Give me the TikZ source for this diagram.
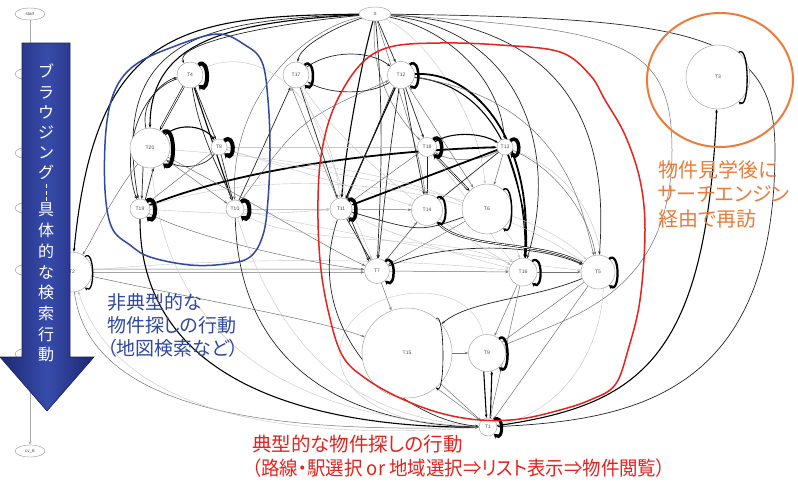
\documentclass[tikz,border=0pt]{standalone}
\usepackage{fontspec}
\setmainfont{Noto Sans CJK JP}
\newfontfamily\jpp[RawFeature=+palt]{Noto Sans CJK JP}
\newfontfamily\lab{Liberation Sans}
\usetikzlibrary{arrows.meta,shapes.geometric}
\pgfdeclarelayer{bg}
\pgfdeclarelayer{edges}
\pgfsetlayers{bg,edges,main}
\definecolor{blueann}{RGB}{48,72,160}
\definecolor{redann}{RGB}{226,35,30}
\definecolor{orangeann}{RGB}{232,125,60}
\definecolor{arrowdark}{RGB}{30,40,115}
\definecolor{arrowmid}{RGB}{55,75,170}
\newcommand{\gloop}[3]{\draw[sl=#2] (#1.50) .. controls +(#3,-0.8*#3) and +(#3,0.8*#3) .. (#1.-50);}
\begin{document}
\begin{tikzpicture}[x=1pt,y=-1pt,
  gn/.style={circle,draw=gray!75,line width=0.45pt,fill=white,inner sep=0pt,font=\lab\fontsize{5}{5}\selectfont,text=black!70},
  el/.style={ellipse,draw=gray!75,line width=0.45pt,fill=white,inner sep=0pt,minimum width=30pt,minimum height=12pt,font=\lab\fontsize{4.5}{5}\selectfont,text=black!70},
  ea/.style={->,gray!45,line width=0.4pt},
  eb/.style={->,black!55,line width=0.5pt},
  ec/.style={->,black!85,line width=0.7pt},
  ed/.style={->,black,line width=1.1pt},
  ee/.style={->,black,line width=1.8pt},
  dd/.style={->,black,line width=0.6pt,double=white,double distance=0.9pt},
  sl/.style={-{Stealth[length=2.5pt 0.5,width=2pt 1.2]},black,line width=#1},
  >={Stealth[length=3.5pt,width=2.6pt]}
]
\useasboundingbox (0,0) rectangle (798,485);
\begin{pgfonlayer}{bg}
\fill[white] (0,0) rectangle (798,485);
\end{pgfonlayer}

% side ellipses
\node[el] (start) at (30,14) {start};
\node[el] (cv6) at (30,451) {cv\_6};
\node[el] (h1) at (30,74) {};
\node[el] (h2) at (30,153) {};
\node[el] (h3) at (30,208) {};
\node[el] (h4) at (30,270) {};
\node[el] (h5) at (30,354) {};
\node[el,minimum width=32pt,minimum height=14pt] (S) at (375,14) {S};

% graph nodes
\node[gn,minimum size=26pt] (T4) at (190,75) {T4};
\node[gn,minimum size=26pt] (T17) at (296,75) {T17};
\node[gn,minimum size=27pt] (T12) at (401,75) {T12};
\node[gn,minimum size=64pt] (T3) at (718,77) {T3};
\node[gn,minimum size=40pt] (T20) at (150,148) {T20};
\node[gn,minimum size=16pt] (T8) at (219,147) {T8};
\node[gn,minimum size=19pt] (T18) at (427,147) {T18};
\node[gn,minimum size=16pt] (T13) at (505,147) {T13};
\node[gn,minimum size=20pt] (T19) at (140,209) {T19};
\node[gn,minimum size=18pt] (T10) at (235,209) {T10};
\node[gn,minimum size=22pt] (T11) at (341,209) {T11};
\node[gn,minimum size=31pt] (T14) at (427,210) {T14};
\node[gn,minimum size=50pt] (T6) at (487,209) {T6};
\node[gn,minimum size=40pt] (T2) at (72,272) {T2};
\node[gn,minimum size=25pt] (T7) at (377,271) {T7};
\node[gn,minimum size=28pt] (T16) at (523,272) {T16};
\node[gn,minimum size=34pt] (T5) at (598,272) {T5};
\node[gn,minimum size=90pt] (T15) at (407,353) {T15};
\node[gn,minimum size=37pt] (T9) at (487,353) {T9};
\node[gn,minimum size=18pt] (T1) at (488,427) {T1};

\begin{pgfonlayer}{edges}
\draw[gray!70,line width=0.5pt] (start) -- (30,43);
\draw[gray!70,line width=0.5pt,->] (30,380) -- (cv6);
% from S
\draw[ed] (S) .. controls (180,16) and (95,30) .. (T2);
\draw[ec] (S) .. controls (200,20) and (110,40) .. (T19);
\draw[ed] (S) .. controls (230,22) and (150,40) .. (T20);
\draw[ec] (S) .. controls (260,25) and (175,45) .. (T4);
\draw[eb] (S) .. controls (300,30) and (230,100) .. (T10);
\draw[ec] (S) .. controls (340,25) and (300,45) .. (T17);
\draw[ec] (S) -- (T12);
\draw[eb] (S) .. controls (370,80) and (400,120) .. (T18);
\draw[ed] (S) .. controls (362,60) and (345,150) .. (T11);
\draw[ec] (S) .. controls (385,120) and (380,200) .. (T7);
\draw[eb] (S) .. controls (395,80) and (420,150) .. (T14);
\draw[ea] (S) .. controls (430,40) and (480,120) .. (T6);
\draw[ec] (S) .. controls (450,30) and (500,80) .. (T13);
\draw[ec] (S) .. controls (520,30) and (560,150) .. (T16);
\draw[ec] (S) .. controls (560,25) and (610,120) .. (T5);
\draw[eb] (S) .. controls (620,30) and (672,40) .. (672,150) .. controls (672,300) and (560,320) .. (T9);
\draw[ec] (S) .. controls (700,18) and (775,35) .. (775,150) .. controls (775,390) and (640,420) .. (T1);
\draw[ed] (T1) .. controls (640,405) and (706,360) .. (T3);
% left cluster
\draw[dd] (T4) -- (T20);
\draw[ec] (T20) .. controls (140,100) and (165,80) .. (T4);
\draw[ec] (T4) -- (T8);
\draw[ed] (T4) -- (T10);
\draw[ec] (T4.-80) .. controls (200,140) and (225,180) .. (T10);
\draw[ec] (T4) .. controls (140,90) and (120,150) .. (T19);
\draw[ed] (T20) .. controls (180,122) and (205,126) .. (T8);
\draw[ec] (T8) .. controls (205,168) and (180,170) .. (T20);
\draw[ec] (T20.-110) -- (T19.80);
\draw[ec] (T19.60) -- (T20.-80);
\draw[eb] (T20) -- (T10);
\draw[eb] (T8) -- (T19);
\draw[ec] (T8) -- (T10);
\draw[ee] (T19) .. controls (250,165) and (400,150) .. (T13);
\draw[ec] (T10) -- (T17);
\draw[eb] (T10) .. controls (300,120) .. (T12);
\draw[ea] (T10) -- (T11);
\draw[ea] (T19) .. controls (250,215) .. (T11);
\draw[ea] (T8) -- (T18);
\draw[ea] (T8) -- (T14);
\draw[eb] (T20) .. controls (250,200) and (330,250) .. (T7);
\draw[eb] (T19) .. controls (200,240) and (320,265) .. (T7);
\draw[eb] (T2.8) -- (T7.172);
\draw[eb] (T2.-2) -- (T7.186);
\draw[ea] (T2) .. controls (250,255) and (420,260) .. (T16);
\draw[eb] (T20) .. controls (110,200) and (95,235) .. (T2);
% middle cluster
\draw[ec] (T17) -- (T11);
\draw[ea] (T17) -- (T7);
\draw[eb] (T11.110) -- (T17.-110);
\draw[ec] (T17) .. controls (330,50) and (370,50) .. (T12);
\draw[ec] (T12) .. controls (370,95) and (330,95) .. (T17);
\draw[ed] (T12) -- (T11);
\draw[ec] (T12.-120) -- (T11.60);
\draw[ec] (T12) -- (T18);
\draw[ec] (T12) -- (T14);
\draw[eb] (T12) -- (T6);
\draw[ee] (T12) .. controls (480,70) and (535,150) .. (T16);
\draw[ed] (T12.-10) .. controls (490,85) and (525,160) .. (T16.80);
\draw[ec] (T12) .. controls (390,150) .. (T7);
\draw[ed] (T18) .. controls (450,132) and (480,132) .. (T13);
\draw[eb] (T13) .. controls (480,162) and (450,162) .. (T18);
\draw[ec] (T18) -- (T14);
\draw[dd] (T18) -- (T6);
\draw[eb] (T18) -- (T11);
\draw[ec] (T13) -- (T14);
\draw[eb] (T13) -- (T6);
\draw[ed] (T13) .. controls (520,190) and (530,230) .. (T16);
\draw[eb] (T13) .. controls (560,170) and (590,220) .. (T5);
\draw[ee] (T13) -- (T11);
\draw[dd] (T14) .. controls (460,250) and (540,240) .. (T5);
\draw[eb] (T14) -- (T7);
\draw[eb] (T11) -- (T14);
\draw[ec] (T11) -- (T7);
\draw[ec] (T11.-40) -- (T7.130);
\draw[eb] (T7) -- (T14);
\draw[eb] (T7) -- (T16);
\draw[ec] (T7) .. controls (450,240) and (540,245) .. (T5);
\draw[ec] (T6) .. controls (420,232) .. (T11);
\draw[eb] (T6) -- (T7);
\draw[eb] (T16) -- (T5);
\draw[eb] (T5) -- (T9);
\draw[eb] (T16) -- (T9);
\draw[ec] (T5) .. controls (530,300) and (470,300) .. (T15);
\draw[eb] (T15) -- (T9);
\draw[eb] (T7) -- (T15);
\draw[eb] (T2) .. controls (200,300) and (320,320) .. (T15);
\draw[ea] (T9) .. controls (470,270) and (345,285) .. (340,350) .. controls (335,410) and (430,430) .. (T1);
\draw[ed] (T9.-100) -- (T1.100);
\draw[ed] (T1.75) -- (T9.-75);
\draw[eb] (T15) -- (T1);
\draw[eb] (T1.140) -- (T15.-50);
% bottom curves into T1
\draw[eb] (T2) .. controls (90,420) and (300,432) .. (T1);
\draw[ed] (T19) .. controls (140,400) and (350,428) .. (T1);
\draw[ec] (T10) .. controls (240,390) and (380,425) .. (T1);
\draw[ea] (T20) .. controls (170,380) and (350,420) .. (T1);
\draw[ea] (T8) .. controls (270,380) and (380,418) .. (T1);
\draw[ec] (T11) .. controls (300,330) and (400,420) .. (T1);
\draw[eb] (T5) -- (T1);
\draw[eb] (T16) -- (T1);
\draw[ea] (T13) .. controls (650,200) and (620,400) .. (T1);
\draw[ea] (T1) .. controls (300,440) and (120,420) .. (T2);
% light crossing arcs
\draw[ea] (T10) .. controls (300,250) and (450,230) .. (T16);
\draw[ea] (T19) .. controls (260,170) and (450,170) .. (T5);
\draw[ea] (T20) .. controls (300,160) and (500,180) .. (T16);
\draw[ea] (T8) .. controls (300,175) and (520,190) .. (T5);
\draw[ea] (T4) .. controls (260,40) and (330,100) .. (T11);
\draw[ea] (T17) .. controls (330,130) and (400,200) .. (T16);
\draw[eb] (T12) .. controls (560,100) and (580,200) .. (T5);
\draw[ea] (T18) .. controls (470,200) and (500,250) .. (T16);
\draw[ea] (T10) .. controls (330,230) and (480,260) .. (T5);
\draw[ea] (T11) .. controls (400,240) and (480,260) .. (T16);
\end{pgfonlayer}

% self loops
\gloop{T4}{4pt}{11}
\gloop{T20}{4pt}{13}
\gloop{T8}{4pt}{11}
\gloop{T19}{4pt}{11}
\gloop{T10}{4pt}{11}
\gloop{T17}{2.5pt}{11}
\gloop{T12}{2.5pt}{11}
\gloop{T18}{3.5pt}{11}
\gloop{T13}{3.5pt}{11}
\gloop{T14}{2pt}{11}
\gloop{T6}{1.5pt}{11}
\gloop{T11}{3.5pt}{10}
\gloop{T7}{2.5pt}{11}
\gloop{T16}{2.2pt}{11}
\gloop{T5}{2.2pt}{11}
\gloop{T9}{2.5pt}{11}
\gloop{T1}{3pt}{10}
\gloop{T3}{1.3pt}{11}
\gloop{T2}{1.3pt}{10}
\gloop{T15}{0.6pt}{9}

% annotation loops
\draw[blueann,line width=1.5pt] plot[smooth cycle,tension=0.6] coordinates {(217,34) (245,45) (262,62) (268,100) (270,150) (268,200) (263,235) (250,257) (225,264) (190,265) (150,257) (130,245) (112,228) (105,190) (106,130) (115,90) (135,65) (170,48)};
\draw[redann,line width=1.5pt] plot[smooth cycle,tension=0.6] coordinates {(318,200) (322,150) (335,105) (360,65) (390,47) (440,43) (500,45) (560,52) (590,75) (605,100) (625,135) (640,180) (645,230) (640,300) (628,350) (615,385) (590,400) (560,410) (520,419) (480,420) (440,413) (400,398) (365,378) (342,355) (328,310) (320,260)};
\draw[orangeann,line width=2pt] (720,80) ellipse [x radius=73, y radius=67];

% big arrow
\shade[left color=arrowdark,right color=arrowdark,middle color=arrowmid] (22,43) -- (70,43) -- (70,357) -- (94,357) -- (47,411) -- (0,357) -- (22,357) -- cycle;
\draw[arrowdark!80!black,line width=0.6pt] (22,43) -- (70,43) -- (70,357) -- (94,357) -- (47,411) -- (0,357) -- (22,357) -- cycle;
\node[anchor=north,inner sep=0pt,text=white,align=center,font=\fontsize{16}{20.2}\selectfont] (vt1) at (46,64) {ブ\\ラ\\ウ\\ジ\\ン\\グ};
\draw[white,line width=1pt,dash pattern=on 4pt off 2.5pt] (46,184) -- (46,203);
\node[anchor=north,inner sep=0pt,text=white,align=center,font=\fontsize{16}{20.7}\selectfont] (vt2) at (46,203) {具\\体\\的\\な\\検\\索\\行\\動};

% texts
\node[anchor=north west,inner sep=0pt,align=left,text=orangeann,font=\jpp\fontsize{20}{24.5}\selectfont] (ot) at (658,160) {物件見学後に\\サーチエンジン\\経由で再訪};
\node[anchor=north west,inner sep=0pt,align=left,text=blueann,font=\jpp\fontsize{19}{23.3}\selectfont] (bt) at (107,293) {非典型的な\\物件探しの行動\\（地図検索など）};
\node[anchor=north west,inner sep=0pt,align=left,text=redann,font=\jpp\fontsize{19.5}{23.5}\selectfont] (rt) at (252,435) {典型的な物件探しの行動\\\scalebox{0.945}[1]{（路線・駅選択 or 地域選択⇒リスト表示⇒物件閲覧）}};
\end{tikzpicture}
\end{document}
